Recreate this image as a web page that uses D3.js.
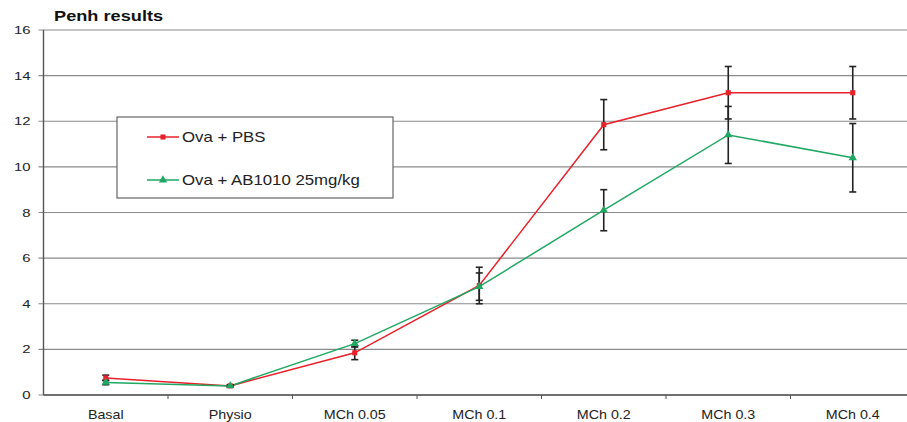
<!doctype html>
<html lang="en">
<head>
  <meta charset="utf-8">
  <title>Penh results</title>
</head>
<style>
  body { margin: 0; background: #fff; font-family: Arial, "Liberation Sans", sans-serif; }
</style>
<body>
  <script src="https://d3js.org/d3.v7.min.js"></script>
  <svg xmlns="http://www.w3.org/2000/svg"></svg>
  <script>
    // data
    var categories = ["Basal", "Physio", "MCh 0.05", "MCh 0.1", "MCh 0.2", "MCh 0.3", "MCh 0.4"];
    var pbsValues = [0.75, 0.4, 1.85, 4.8, 11.85, 13.25, 13.25];
    var pbsErrors = [0.12, 0.05, 0.3, 0.8, 1.1, 1.15, 1.15];
    var abValues = [0.55, 0.4, 2.25, 4.75, 8.1, 11.4, 10.4];
    var abErrors = [0.1, 0.05, 0.15, 0.6, 0.9, 1.25, 1.5];
    var yTicks = [0, 2, 4, 6, 8, 10, 12, 14, 16];
    var seriesNames = ["Ova + PBS", "Ova + AB1010 25mg/kg"];

    var svg = d3.select("svg")
      .attr("width", 907)
      .attr("height", 422);

    var margin = { top: 30, left: 43.5, bottom: 27 },
        width = 871.5,
        height = 422 - margin.top - margin.bottom,
        g = svg.append("g").attr("transform", "translate(" + margin.left + "," + margin.top + ")");

    var x = d3.scaleBand().domain(categories).range([0, width]);
    var y = d3.scaleLinear().domain([0, 16]).range([height, 0]);

    // the source picture is stretched sideways, so text gets a horizontal scale
    function stretched(parent, tx, ty, sx, txt) {
      return parent.append("text")
        .attr("transform", "translate(" + tx + "," + ty + ") scale(" + sx + ",1)")
        .attr("fill", "#222")
        .text(txt);
    }

    // gridlines
    g.selectAll(".grid")
      .data(yTicks)
      .enter().append("line")
      .attr("x1", -5).attr("x2", width)
      .attr("y1", d => y(d)).attr("y2", d => y(d))
      .attr("stroke", "#8a8a8a").attr("stroke-width", 1.2);

    yTicks.forEach(function (t) {
      stretched(g, -13, y(t) + 4, 1.3, d3.format("d")(t))
        .attr("text-anchor", "end")
        .attr("font-size", "11.5px");
    });

    g.append("line")
      .attr("x1", 0).attr("x2", 0).attr("y1", 0).attr("y2", height)
      .attr("stroke", "#555").attr("stroke-width", 1.4);

    // x axis
    var xAxis = g.append("g")
      .attr("transform", "translate(0," + height + ")");
    xAxis.append("line")
      .attr("x1", 0).attr("x2", width)
      .attr("stroke", "#555").attr("stroke-width", 1.4);
    xAxis.selectAll(".xtick")
      .data(categories.slice(1))
      .enter().append("line")
      .attr("x1", d => x(d)).attr("x2", d => x(d))
      .attr("y1", 0).attr("y2", 4)
      .attr("stroke", "#555");
    categories.forEach(function (c) {
      stretched(xAxis, x(c) + x.bandwidth() / 2, 24, 1.1, c)
        .attr("text-anchor", "middle")
        .attr("font-size", "13px");
    });

    var series = [
      { name: seriesNames[0], values: pbsValues, errors: pbsErrors, color: "#e8202a", symbol: d3.symbolSquare, size: 26 },
      { name: seriesNames[1], values: abValues, errors: abErrors, color: "#1fa862", symbol: d3.symbolTriangle, size: 30 }
    ];

    var line = d3.line()
      .x((d, i) => x(categories[i]) + x.bandwidth() / 2)
      .y(d => y(d));

    series.forEach(function (s) {
      g.append("path")
        .datum(s.values)
        .attr("d", line)
        .attr("fill", "none")
        .attr("stroke", s.color)
        .attr("stroke-width", 1.5);
    });

    // error bars
    series.forEach(function (s) {
      var eb = g.append("g");
      s.values.forEach(function (v, i) {
        var cx = x(categories[i]) + x.bandwidth() / 2;
        var e = s.errors[i];
        eb.append("line")
          .attr("x1", cx).attr("x2", cx)
          .attr("y1", y(v + e)).attr("y2", y(v - e))
          .attr("stroke", "#222").attr("stroke-width", 1.6);
        [v + e, v - e].forEach(function (t) {
          eb.append("line")
            .attr("x1", cx - 3.5).attr("x2", cx + 3.5)
            .attr("y1", y(t)).attr("y2", y(t))
            .attr("stroke", "#222").attr("stroke-width", 1.6);
        });
      });
    });

    series.forEach(function (s) {
      g.selectAll(null)
        .data(s.values)
        .enter().append("path")
        .attr("transform", (d, i) => "translate(" + (x(categories[i]) + x.bandwidth() / 2) + "," + y(d) + ")")
        .attr("d", d3.symbol().type(s.symbol).size(s.size))
        .attr("fill", s.color);
    });

    // legend
    var legend = svg.append("g").attr("transform", "translate(117,117)");
    legend.append("rect")
      .attr("width", 276).attr("height", 81)
      .attr("fill", "#fff")
      .attr("stroke", "#666").attr("stroke-width", 1.2);
    series.forEach(function (s, i) {
      var ly = 20 + i * 43;
      legend.append("line")
        .attr("x1", 30).attr("x2", 62)
        .attr("y1", ly).attr("y2", ly)
        .attr("stroke", s.color).attr("stroke-width", 1.5);
      legend.append("path")
        .attr("transform", "translate(46," + ly + ")")
        .attr("d", d3.symbol().type(s.symbol).size(s.size))
        .attr("fill", s.color);
      stretched(legend, 65, ly + 5, 1.2, s.name)
        .attr("font-size", "14px");
    });

    stretched(svg, 54, 21, 1.3, "Penh results")
      .attr("font-size", "14px")
      .attr("font-weight", "bold")
      .attr("fill", "#111");
  </script>
</body>
</html>
